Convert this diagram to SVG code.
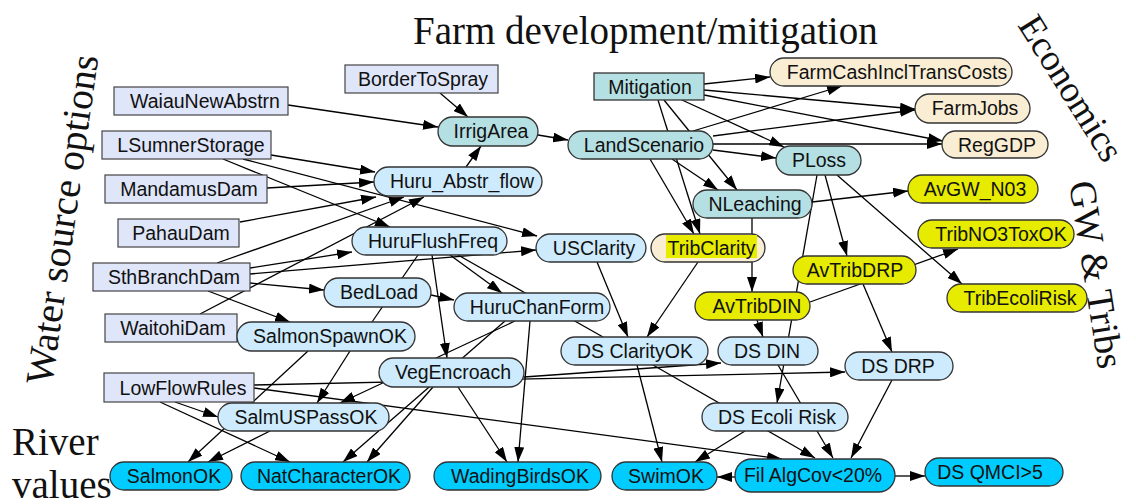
<svg xmlns="http://www.w3.org/2000/svg" width="1136" height="504" viewBox="0 0 1136 504">
<style>
.t{font-family:"Liberation Sans",Arial,sans-serif;font-size:19.5px;fill:#111;text-anchor:middle}
.h{font-family:"Liberation Serif","Times New Roman",serif;font-size:39px;fill:#111}
.w{fill:#dfe6f9;stroke:#444;stroke-width:1.2}
.teal{fill:#b5e0e3;stroke:#333;stroke-width:1.3}
.lb{fill:#cdebfd;stroke:#333;stroke-width:1.3}
.bg{fill:#f9eed4;stroke:#333;stroke-width:1.3}
.ye{fill:#e6eb00;stroke:#333;stroke-width:1.3}
.cy{fill:#00ccff;stroke:#333;stroke-width:1.3}
#edges path{fill:none;stroke:#000;stroke-width:1.3}
#edges path.a{marker-end:url(#arr)}
</style>
<defs>
<marker id="arr" markerUnits="userSpaceOnUse" markerWidth="15" markerHeight="10" refX="15" refY="5" orient="auto">
<path d="M0,0 L15,5 L0,10 z" fill="#000"/>
</marker>
</defs>
<rect width="1136" height="504" fill="#fff"/>

<g id="titles">
<text class="h" x="413" y="44">Farm development/mitigation</text>
<text class="h" transform="translate(52,386) rotate(-82)" style="font-size:39.5px">Water source options</text>
<text class="h" transform="translate(1017,25) rotate(58)" style="font-size:37px">Economics</text>
<text class="h" transform="translate(1069,183) rotate(81)" style="font-size:38px">GW &amp; Tribs</text>
<text class="h" x="12" y="455">River</text>
<text class="h" x="12" y="498">values</text>
</g>

<g id="edges">
<path class="a" d="M288,105 L438,127"/>
<path class="a" d="M440,93 L468,117"/>
<path class="a" d="M466,167 L481,146"/>
<path class="a" d="M538,135 L568,140"/>
<path class="a" d="M271,155 L375,172"/>
<path class="a" d="M267,188 L374,182"/>
<path class="a" d="M240,222 L376,197"/>
<path class="a" d="M217,263 L404,197"/>
<path class="a" d="M200,314 L424,197"/>
<path class="a" d="M223,159 L390,227"/>
<path class="a" d="M243,159 L537,236"/>
<path class="a" d="M250,268 L352,252"/>
<path class="a" d="M250,274 L536,250"/>
<path class="a" d="M250,283 L324,290"/>
<path class="a" d="M208,291 L290,322"/>
<path d="M418,255 L372,322"/>
<path class="a" d="M450,255 L502,293"/>
<path d="M458,255 L603,337"/>
<path class="a" d="M432,255 L447,358"/>
<path class="a" d="M431,295 L454,300"/>
<path class="a" d="M515,321 L340,403"/>
<path class="a" d="M505,321 L343,462"/>
<path class="a" d="M433,387 L367,462"/>
<path class="a" d="M458,387 L507,462"/>
<path class="a" d="M530,321 L518,462"/>
<path class="a" d="M350,351 L317,403"/>
<path class="a" d="M308,351 L188,462"/>
<path class="a" d="M270,431 L208,462"/>
<path class="a" d="M175,402 L218,417"/>
<path class="a" d="M160,402 L290,462"/>
<path class="a" d="M254,385 L845,372"/>
<path class="a" d="M254,388 L782,459"/>
<path class="a" d="M524,377 L721,363"/>
<path class="a" d="M597,262 L628,337"/>
<path class="a" d="M698,262 L647,337"/>
<path class="a" d="M658,100 L700,234"/>
<path class="a" d="M650,159 L694,234"/>
<path class="a" d="M664,100 L737,190"/>
<path class="a" d="M672,159 L718,190"/>
<path class="a" d="M682,100 L784,147"/>
<path class="a" d="M713,150 L776,158"/>
<path class="a" d="M704,84 L770,77"/>
<path class="a" d="M693,131 L842,86"/>
<path class="a" d="M704,90 L915,109"/>
<path class="a" d="M713,136 L915,110"/>
<path class="a" d="M704,95 L943,141"/>
<path class="a" d="M713,144 L942,144"/>
<path class="a" d="M812,202 L908,191"/>
<path class="a" d="M752,218 L752,292"/>
<path class="a" d="M825,175 L847,256"/>
<path class="a" d="M837,175 L962,284"/>
<path class="a" d="M817,175 L777,403"/>
<path class="a" d="M757,320 L763,337"/>
<path class="a" d="M810,302 L958,249"/>
<path class="a" d="M863,284 L892,352"/>
<path class="a" d="M778,365 L833,458"/>
<path class="a" d="M653,365 L815,458"/>
<path class="a" d="M892,380 L851,458"/>
<path class="a" d="M637,365 L662,462"/>
<path class="a" d="M745,431 L695,462"/>
<path class="a" d="M735,477 L717,477"/>
<path class="a" d="M895,476 L925,476"/>
</g>

<g id="BorderToSpray"><rect class="w" x="345" y="65" width="153" height="28"/><text class="t" x="423" y="86">BorderToSpray</text></g>
<g id="WaiauNewAbstrn"><rect class="w" x="114" y="87" width="174" height="28"/><text class="t" x="205" y="108">WaiauNewAbstrn</text></g>
<g id="LSumnerStorage"><rect class="w" x="102" y="131" width="169" height="28"/><text class="t" x="191" y="152">LSumnerStorage</text></g>
<g id="MandamusDam"><rect class="w" x="105" y="175" width="162" height="28"/><text class="t" x="189" y="196">MandamusDam</text></g>
<g id="PahauDam"><rect class="w" x="118" y="219" width="121" height="28"/><text class="t" x="181" y="240">PahauDam</text></g>
<g id="SthBranchDam"><rect class="w" x="93" y="263" width="157" height="28"/><text class="t" x="174" y="284">SthBranchDam</text></g>
<g id="WaitohiDam"><rect class="w" x="105" y="314" width="132" height="28"/><text class="t" x="173" y="335">WaitohiDam</text></g>
<g id="LowFlowRules"><rect class="w" x="104" y="373" width="150" height="29"/><text class="t" x="183" y="395">LowFlowRules</text></g>
<g id="Mitigation"><rect class="teal" x="594" y="73" width="110" height="27"/><text class="t" x="650" y="94">Mitigation</text></g>

<g id="IrrigArea"><rect class="teal" x="438" y="117" width="100" height="29" rx="14.5"/><text class="t" x="491" y="138">IrrigArea</text></g>
<g id="LandScenario"><rect class="teal" x="568" y="131" width="145" height="28" rx="14"/><text class="t" x="644" y="152">LandScenario</text></g>
<g id="PLoss"><rect class="teal" x="776" y="146" width="85" height="29" rx="14.5"/><text class="t" x="819" y="167">PLoss</text></g>
<g id="NLeaching"><rect class="teal" x="693" y="190" width="119" height="28" rx="14"/><text class="t" x="755" y="211">NLeaching</text></g>

<g id="FarmCashInclTransCosts"><rect class="bg" x="770" y="58" width="242" height="28" rx="14"/><text class="t" x="897" y="79">FarmCashInclTransCosts</text></g>
<g id="FarmJobs"><rect class="bg" x="915" y="94" width="115" height="29" rx="14.5"/><text class="t" x="975" y="115">FarmJobs</text></g>
<g id="RegGDP"><rect class="bg" x="942" y="131" width="106" height="27" rx="13.5"/><text class="t" x="997" y="152">RegGDP</text></g>
<g id="TribClarity"><rect class="bg" x="651" y="234" width="114" height="28" rx="14"/><rect x="666" y="235" width="91" height="23" fill="#e6eb00"/><text class="t" x="711.5" y="255">TribClarity</text></g>

<g id="Huru_Abstr_flow"><rect class="lb" x="374" y="167" width="168" height="29" rx="14.5"/><text class="t" x="462" y="188">Huru_Abstr_flow</text></g>
<g id="HuruFlushFreq"><rect class="lb" x="352" y="227" width="155" height="28" rx="14"/><text class="t" x="433" y="248">HuruFlushFreq</text></g>
<g id="USClarity"><rect class="lb" x="536" y="234" width="110" height="28" rx="14"/><text class="t" x="594" y="255">USClarity</text></g>
<g id="BedLoad"><rect class="lb" x="324" y="278" width="107" height="29" rx="14.5"/><text class="t" x="379" y="299">BedLoad</text></g>
<g id="HuruChanForm"><rect class="lb" x="454" y="293" width="156" height="28" rx="14"/><text class="t" x="537" y="314">HuruChanForm</text></g>
<g id="SalmonSpawnOK"><rect class="lb" x="237" y="322" width="178" height="29" rx="14.5"/><text class="t" x="330" y="343">SalmonSpawnOK</text></g>
<g id="VegEncroach"><rect class="lb" x="379" y="358" width="145" height="29" rx="14.5"/><text class="t" x="453" y="379">VegEncroach</text></g>
<g id="SalmUSPassOK"><rect class="lb" x="218" y="403" width="171" height="28" rx="14"/><text class="t" x="306" y="424">SalmUSPassOK</text></g>
<g id="DS_ClarityOK"><rect class="lb" x="561" y="337" width="147" height="28" rx="14"/><text class="t" x="635" y="358">DS ClarityOK</text></g>
<g id="DS_DIN"><rect class="lb" x="718" y="337" width="100" height="28" rx="14"/><text class="t" x="767" y="358">DS DIN</text></g>
<g id="DS_DRP"><rect class="lb" x="845" y="352" width="108" height="28" rx="14"/><text class="t" x="898" y="373">DS DRP</text></g>
<g id="DS_Ecoli_Risk"><rect class="lb" x="702" y="403" width="146" height="28" rx="14"/><text class="t" x="777" y="424">DS Ecoli Risk</text></g>

<g id="AvGW_N03"><rect class="ye" x="908" y="175" width="130" height="28" rx="14"/><text class="t" x="975" y="196">AvGW_N03</text></g>
<g id="TribNO3ToxOK"><rect class="ye" x="918" y="220" width="156" height="28" rx="14"/><text class="t" x="1001" y="241">TribNO3ToxOK</text></g>
<g id="AvTribDRP"><rect class="ye" x="793" y="256" width="123" height="28" rx="14"/><text class="t" x="855" y="277">AvTribDRP</text></g>
<g id="TribEcoliRisk"><rect class="ye" x="947" y="284" width="140" height="28" rx="14"/><text class="t" x="1020" y="305">TribEcoliRisk</text></g>
<g id="AvTribDIN"><rect class="ye" x="695" y="292" width="115" height="28" rx="14"/><text class="t" x="757" y="313">AvTribDIN</text></g>

<g id="SalmonOK"><rect class="cy" x="110" y="462" width="122" height="28" rx="14"/><text class="t" x="174" y="483">SalmonOK</text></g>
<g id="NatCharacterOK"><rect class="cy" x="241" y="462" width="169" height="28" rx="14"/><text class="t" x="329" y="483">NatCharacterOK</text></g>
<g id="WadingBirdsOK"><rect class="cy" x="434" y="462" width="167" height="28" rx="14"/><text class="t" x="520" y="483">WadingBirdsOK</text></g>
<g id="SwimOK"><rect class="cy" x="612" y="462" width="105" height="28" rx="14"/><text class="t" x="666" y="483">SwimOK</text></g>
<g id="Fil_AlgCov"><rect class="cy" x="735" y="459" width="160" height="33" rx="16.5"/><text class="t" x="813" y="482">Fil AlgCov&lt;20%</text></g>
<g id="DS_QMCI"><rect class="cy" x="925" y="458" width="138" height="28" rx="14"/><text class="t" x="990" y="479">DS QMCI&gt;5</text></g>
</svg>
